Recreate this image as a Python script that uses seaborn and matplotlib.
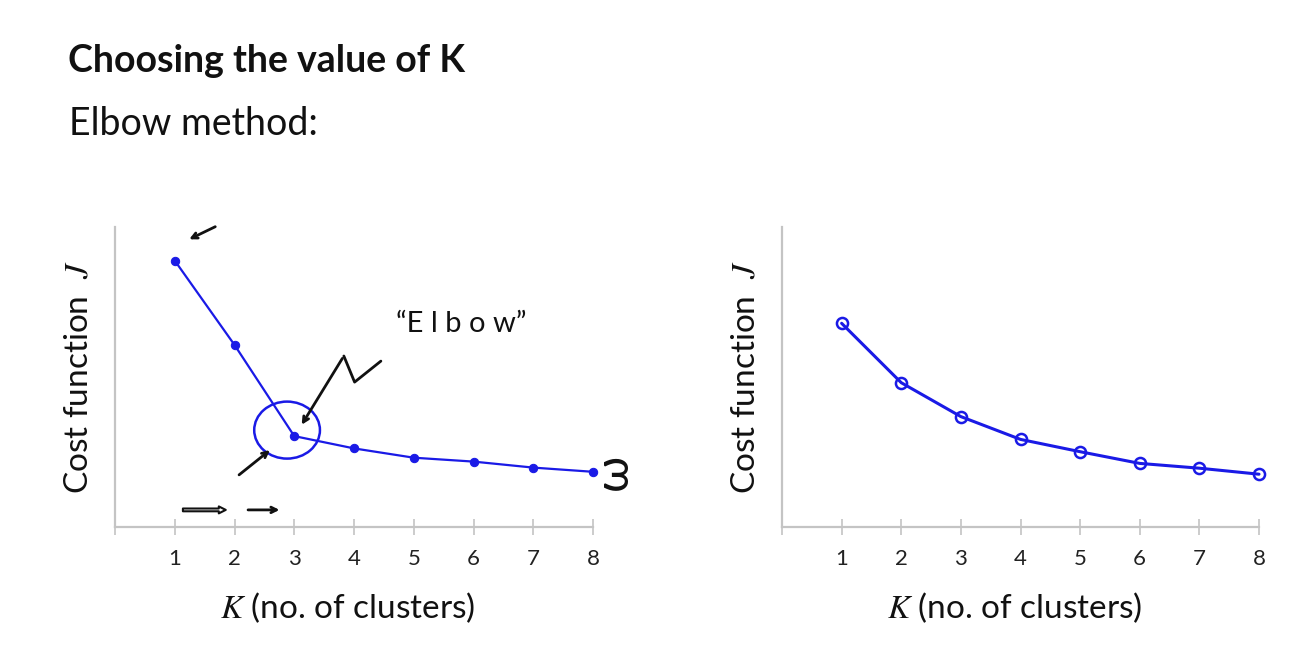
import numpy as np
import pandas as pd
import seaborn as sns
import matplotlib.pyplot as plt
from matplotlib.patches import Ellipse

# Veriler (y ekseninde birim yok, 0-10 arası göreli değerler)
k_values = [1, 2, 3, 4, 5, 6, 7, 8]
cost_elbow = [8.88, 6.07, 3.03, 2.62, 2.31, 2.18, 1.98, 1.84]
cost_smooth = [6.79, 4.81, 3.68, 2.92, 2.51, 2.12, 1.96, 1.76]
tick_labels = ["", "1", "2", "3", "4", "5", "6", "7", "8"]

sns.set_style("white")
plt.rcParams['font.family'] = ['Lato', 'DejaVu Sans']
plt.rcParams['mathtext.fontset'] = 'stix'

W, H = 1303, 650
fig = plt.figure(figsize=(W / 100, H / 100), dpi=100)

BLUE = "#1a1ae6"
GRAY = "#c4c4c4"

def px_axes(x0, x1, y0, y1):
    return fig.add_axes([x0 / W, 1 - y1 / H, (x1 - x0) / W, (y1 - y0) / H])

ax1 = px_axes(115, 593, 227, 527)
ax2 = px_axes(782, 1259, 227, 527)

df1 = pd.DataFrame({"K": k_values, "J": cost_elbow})
df2 = pd.DataFrame({"K": k_values, "J": cost_smooth})

sns.lineplot(data=df1, x="K", y="J", ax=ax1, color=BLUE, lw=1.6,
             marker="o", markersize=6, markeredgecolor=BLUE, clip_on=False)
sns.lineplot(data=df2, x="K", y="J", ax=ax2, color=BLUE, lw=2.2,
             marker="o", markersize=8, markerfacecolor="none",
             markeredgecolor=BLUE, markeredgewidth=1.8, clip_on=False)

for ax in (ax1, ax2):
    ax.set_xlim(0, 8)
    ax.set_ylim(0, 10)
    ax.set_xticks(range(0, 9))
    ax.set_xticklabels(tick_labels)
    ax.set_yticks([])
    sns.despine(ax=ax)
    for s in ("left", "bottom"):
        ax.spines[s].set_color(GRAY)
        ax.spines[s].set_linewidth(1.6)
    ax.tick_params(axis="x", bottom=True, direction="inout", length=11,
                   width=1.2, color=GRAY, pad=10, labelsize=16,
                   labelcolor="#222222")
    ax.set_xlabel("$K$ (no. of clusters)", fontsize=24, color="#111111")
    ax.xaxis.set_label_coords(0.487, -0.21)
    ax.set_ylabel("Cost function  $J$", fontsize=24, color="#111111")
    ax.yaxis.set_label_coords(-0.045, 0.5)

# Başlıklar
fig.text(68 / W, 1 - 72 / H, "Choosing the value of K", fontsize=27,
         fontweight="bold", va="baseline", ha="left", color="#111111")
fig.text(69 / W, 1 - 135 / H, "Elbow method:", fontsize=27,
         va="baseline", ha="left", color="#111111")

# El çizimi notlar (sol grafik)
ax1.add_patch(Ellipse((2.88, 3.23), 1.1, 1.9, fill=False, ec=BLUE, lw=1.8))
ax1.text(5.8, 6.75, "\u201cE l b o w\u201d", fontsize=21, ha="center",
         va="center", color="#111111")
zx = [4.45, 4.01, 3.83]
zy = [5.53, 4.83, 5.70]
ax1.plot(zx, zy, color="#111111", lw=2)
ax1.annotate("", xy=(3.10, 3.33), xytext=(3.83, 5.70),
             arrowprops=dict(arrowstyle="->", color="#111111", lw=2))
ax1.annotate("", xy=(2.63, 2.62), xytext=(2.04, 1.68),
             arrowprops=dict(arrowstyle="->", color="#111111", lw=2))
ax1.annotate("", xy=(1.90, 0.57), xytext=(1.09, 0.57),
             arrowprops=dict(arrowstyle="simple", fc="white", ec="#111111", lw=1.5))
ax1.annotate("", xy=(2.80, 0.57), xytext=(2.18, 0.57),
             arrowprops=dict(arrowstyle="->", color="#111111", lw=2))
ax1.annotate("", xy=(1.2, 9.55), xytext=(1.72, 10.05),
             arrowprops=dict(arrowstyle="->", color="#111111", lw=2),
             annotation_clip=False)
ax1.text(8.35, 1.85, "ω", fontsize=34, rotation=90, ha="center", va="center",
         color="#111111", clip_on=False)

plt.savefig("out.png", dpi=100)
plt.close()
